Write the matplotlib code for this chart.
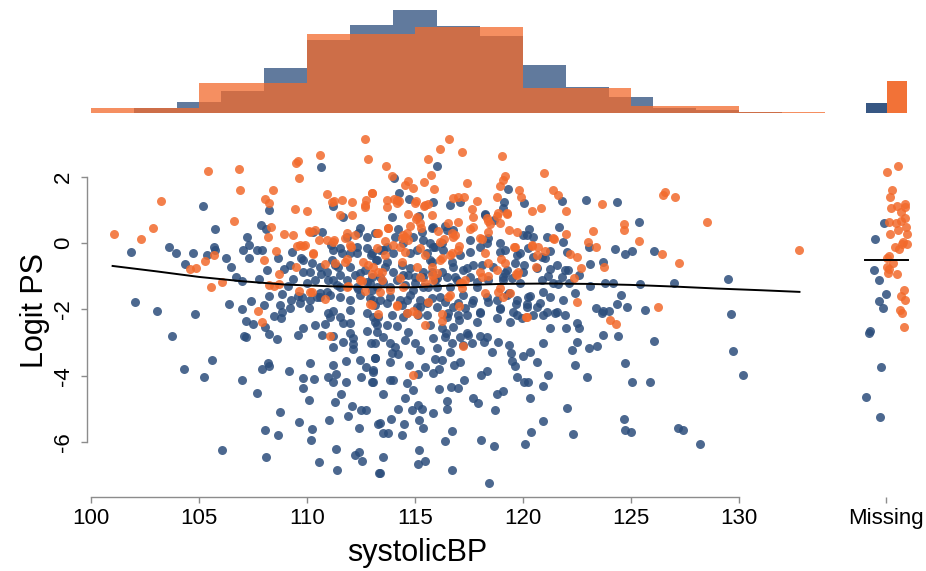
import numpy as np
import matplotlib.pyplot as plt

plt.rcParams['font.family'] = ['Liberation Sans', 'DejaVu Sans']

# --- scatter: (systolicBP, logit PS) per group ---
blue_pts = [
    (101.84, -0.26), (102.04, -1.76), (103.07, -2.05), (103.63, -0.13), (103.94, -0.29),
    (104.34, -0.62), (104.71, -0.29), (104.83, -2.14), (105.17, 1.10), (105.37, -0.35),
    (105.71, -0.13), (105.72, -0.21), (105.75, 0.41), (106.24, -0.45), (106.5, -0.72),
    (106.39, -1.83), (106.73, -1.03), (107.0, -1.13), (107.0, -1.99), (107.21, 0.19),
    (107.04, -0.20), (107.3, -0.07), (107.31, -0.46), (107.39, -1.74), (107.67, -0.20),
    (107.86, 0.55), (108.1, 0.43), (108.24, 0.98), (107.93, -0.20), (108.13, -0.82),
    (107.78, -1.09), (108.24, -1.58), (108.02, -1.85), (108.64, -0.46), (108.94, -0.77),
    (109.29, -0.26), (109.37, -1.09), (109.23, -0.65), (108.84, -1.52), (109.14, -1.28),
    (108.76, -1.85), (109.27, -1.71), (109.57, -1.59), (109.69, -1.81), (110.09, -1.95),
    (109.72, -0.46), (110.14, -0.86), (110.29, 0.34), (110.68, 0.34), (110.63, -0.94),
    (111.1, -0.07), (111.19, 1.10), (110.63, 2.28), (111.68, 0.79), (111.85, 0.19),
    (112.44, 0.45), (112.35, 0.29), (111.17, -0.51), (111.42, -0.71), (111.63, -0.31),
    (112.3, -0.31), (112.45, -0.91), (111.22, -1.11), (111.53, -1.31), (112.38, -1.39),
    (111.22, -2.05), (111.53, -2.22), (111.99, -2.02), (113.07, -1.71), (112.79, 0.19),
    (112.95, -0.36), (113.21, -0.51), (110.6, -1.51), (110.94, -1.46), (110.45, -1.61),
    (113.07, -2.22),
    (116.0, 2.32), (114.03, 1.96), (114.27, 1.51), (114.74, 1.33), (115.85, 1.22),
    (116.64, 1.13), (113.92, 0.77), (115.2, 0.81), (114.23, 0.41), (115.79, 0.46),
    (116.41, 0.51), (117.55, 0.09), (118.22, 0.86), (118.68, 0.69), (119.09, 1.06),
    (119.14, 1.24), (119.32, 1.62), (120.05, 1.19), (121.79, 1.27), (122.93, 1.28),
    (124.34, 1.22), (125.38, 0.64), (121.67, 0.47), (121.87, 0.04), (120.26, 0.41),
    (120.20, 0.24), (120.45, 0.19), (120.01, 0.24), (119.7, -0.36), (120.05, -0.66),
    (120.45, -0.41), (120.86, -0.41), (121.25, -0.24), (121.25, -0.78), (121.17, -0.99),
    (121.64, -1.23), (122.1, -0.81), (123.1, -0.64), (123.69, -0.56), (124.26, -0.19),
    (124.72, -0.34), (125.03, -0.23), (126.08, -0.23), (123.04, -0.13), (122.61, -0.96),
    (123.1, -1.29), (123.80, -1.19), (124.18, -1.21), (124.56, -1.56), (124.33, -1.83),
    (125.42, -1.23), (125.65, -2.02), (123.38, -1.96), (123.69, -2.06), (122.43, -1.49),
    (122.14, -1.19), (120.94, -1.46), (120.79, -1.79), (121.1, -2.08), (121.48, -2.10),
    (120.32, -1.58), (120.20, -1.83), (119.68, -1.84), (119.36, -1.49), (118.94, -1.96),
    (118.39, -1.76), (118.01, -2.11), (117.62, -1.79), (117.31, -1.94), (117.0, -1.79),
    (116.39, -1.76), (116.0, -1.91), (115.54, -1.79), (115.08, -1.91), (114.62, -1.71),
    (114.38, -1.86), (113.69, -1.81), (113.15, -1.86), (113.30, -2.22), (113.92, -2.17),
    (114.46, -2.22), (115.54, -2.17), (116.46, -2.22), (117.39, -2.17), (118.78, -2.27),
    (119.71, -2.17), (113.23, -0.51), (113.69, -0.56), (113.38, -1.01), (114.0, -0.86),
    (114.46, -0.96), (114.77, -0.76), (115.0, -1.01), (115.39, -0.86), (115.69, -0.51),
    (116.24, -0.86), (116.77, -0.71), (116.85, -1.01), (117.39, -0.76), (117.55, -1.01),
    (117.86, -1.31), (118.09, -0.66), (118.32, -0.01), (118.94, -0.26), (119.17, -0.21),
    (119.25, -0.81), (119.09, -1.01), (119.09, -1.11), (116.62, -1.31), (116.0, -1.31),
    (115.39, -1.31), (114.92, -1.41), (113.84, -1.31), (112.99, -1.41), (112.92, -1.21),
    (113.53, -0.21), (114.07, 0.19), (115.39, 0.09), (115.69, -0.01), (116.24, -0.01),
    (116.46, 0.39), (115.85, 0.49),
    (126.98, -1.21), (129.49, -1.09), (129.61, -2.13), (126.08, -2.94), (129.72, -3.24),
    (130.19, -3.97), (125.88, -4.18), (127.16, -5.58), (127.42, -5.62), (128.21, -6.05),
    (103.73, -2.79), (104.29, -3.78), (105.23, -4.03), (105.59, -3.51), (106.06, -6.23),
    (107.0, -4.13), (107.19, -2.82), (107.1, -2.79), (107.48, -2.44), (107.19, -2.34),
    (107.67, -4.52), (107.90, -3.79), (108.18, -3.60), (108.22, -3.69), (108.07, -2.54),
    (108.25, -2.74), (108.47, -2.19), (108.6, -2.89), (108.04, -5.63), (108.10, -6.44),
    (108.67, -5.78), (108.75, -5.09), (108.8, -2.27), (108.86, -2.07), (109.17, -3.85),
    (109.23, -1.96), (109.6, -2.77), (109.64, -5.39), (109.8, -4.05), (109.8, -4.37),
    (109.83, -2.57), (110.09, -4.72), (110.14, -3.60), (110.17, -5.92), (110.25, -5.60),
    (110.31, -4.09), (110.36, -2.48), (110.57, -6.59), (110.69, -2.78), (110.83, -2.44),
    (110.99, -4.02), (111.03, -5.33), (111.22, -3.67), (111.22, -4.17), (111.22, -3.13),
    (111.30, -4.77), (111.34, -3.93), (111.33, -6.19), (111.37, -6.84), (111.56, -4.54),
    (111.67, -2.97), (111.79, -3.55), (111.79, -4.19), (111.88, -5.20), (112.07, -4.89),
    (112.11, -3.05), (112.11, -3.20), (112.14, -2.85), (112.24, -6.37), (112.41, -6.28),
    (112.42, -5.58), (112.47, -3.51), (112.5, -4.04), (112.53, -6.55), (112.49, -5.02),
    (112.72, -5.02), (112.72, -3.72), (112.76, -2.65), (112.95, -3.02), (113.02, -4.18),
    (113.07, -3.83), (113.13, -3.47), (113.30, -5.44), (113.32, -6.93), (111.22, -2.79),
    (110.99, -2.12), (111.06, -2.22), (111.68, -2.42), (111.99, -2.42), (111.99, -2.72),
    (112.76, -2.12), (113.15, -2.37),
    (113.53, -4.54), (113.38, -5.42), (113.53, -5.72), (113.76, -5.72), (113.53, -6.45),
    (113.38, -6.92), (114.38, -5.77), (114.51, -5.44), (114.54, -4.67), (114.20, -4.98),
    (113.88, -5.29), (114.84, -5.02), (115.12, -4.87), (115.31, -5.00), (115.20, -5.32),
    (115.39, -5.56), (115.20, -6.23), (115.15, -6.65), (115.46, -6.57), (115.85, -5.12),
    (116.39, -5.96), (116.73, -6.82), (116.73, -5.66), (116.5, -4.98), (116.5, -4.74),
    (116.13, -4.38), (116.68, -4.32), (116.98, -4.35), (117.28, -4.12), (117.67, -4.67),
    (117.90, -4.81), (118.04, -5.92), (118.41, -7.21), (118.70, -5.02), (118.67, -6.11),
    (118.80, -4.55), (119.06, -4.44), (118.32, -3.84), (118.06, -3.97), (120.11, -6.05),
    (120.36, -5.70), (120.32, -4.67), (120.05, -4.19), (120.23, -4.19), (119.74, -4.02),
    (119.61, -3.70), (120.66, -3.59), (120.94, -4.30), (121.17, -3.97), (120.94, -5.34),
    (122.02, -4.95), (122.33, -5.74), (122.95, -4.04), (122.43, -3.66), (122.25, -3.23),
    (122.48, -2.99), (123.06, -3.16), (123.41, -3.09), (123.72, -2.77), (124.38, -2.79),
    (124.72, -3.60), (125.05, -4.18), (124.68, -5.30), (124.74, -5.64), (124.99, -5.70),
    (121.25, -2.57), (121.97, -2.57), (120.94, -3.02), (120.32, -3.27), (120.01, -3.40),
    (119.44, -3.32), (119.33, -3.07), (119.47, -3.54), (118.83, -2.99), (118.56, -3.27),
    (118.19, -2.97), (118.32, -2.82), (118.01, -2.80), (117.44, -2.77), (117.65, -3.00),
    (117.05, -2.32), (116.74, -2.54), (116.62, -3.27), (116.82, -3.67), (117.08, -3.57),
    (116.70, -3.02), (116.39, -2.82), (116.26, -3.52), (116.11, -3.80), (115.85, -3.92),
    (115.46, -3.72), (115.12, -3.94), (114.74, -3.68), (114.62, -4.22), (114.89, -4.42),
    (113.84, -4.12), (113.99, -4.12), (113.07, -4.17), (113.07, -3.87), (113.15, -3.47),
    (113.84, -3.57), (113.92, -3.32), (113.84, -3.02), (114.20, -3.33), (114.07, -3.12),
    (115.0, -3.00), (115.23, -3.22), (116.0, -3.17), (114.54, -2.92), (114.66, -2.67),
    (113.15, -3.02), (113.53, -2.82), (113.23, -2.67), (113.23, -2.47), (113.69, -2.47),
    (114.15, -2.50), (114.62, -2.10), (115.15, -2.17), (115.69, -2.47), (115.85, -2.87),
    (116.24, -2.57), (116.42, -2.72), (116.54, -2.12), (117.0, -2.17), (117.39, -2.72),
    (117.86, -2.37), (118.01, -2.07), (118.94, -1.99), (119.40, -2.37), (119.94, -2.27),
    (120.48, -2.17), (120.94, -2.17), (121.56, -2.07), (121.94, -2.17), (122.48, -2.42),
    (122.61, -2.55), (123.64, -2.10), (123.99, -2.05), (124.80, -1.91), (115.23, -1.91),
    (116.74, -1.91), (119.56, -2.07), (120.17, -1.91), (120.63, -1.91), (117.24, -3.07),
    (115.93, -3.48), (117.08, -2.82),
    (113.15, 0.29), (114.92, 0.19), (115.31, 0.34), (111.22, -0.21), (111.53, -0.16),
    (111.99, -0.31), (112.3, -0.11), (112.76, -0.16), (113.0, -0.31), (113.38, -0.21),
    (113.69, -0.11), (114.0, -0.31), (114.46, -0.01), (114.77, -0.31), (115.08, -0.21),
    (115.54, -0.31), (115.85, -0.11), (109.83, -0.51), (110.22, -0.61), (109.83, -0.86),
    (110.6, -0.71), (110.91, -0.86), (111.3, -0.66), (111.53, -0.96), (111.99, -0.71),
    (112.22, -0.96), (112.69, -0.81), (113.0, -1.01), (113.61, -0.71), (114.38, -0.66),
    (114.69, -0.96), (115.39, -1.01), (115.77, -0.86), (116.0, -1.06), (109.99, -1.21),
    (110.37, -1.11), (110.99, -1.11), (111.37, -1.26), (111.84, -1.11), (112.3, -1.31),
    (112.76, -1.16), (113.23, -1.31), (113.53, -1.16), (114.15, -1.11), (114.54, -1.26),
    (115.0, -1.21), (115.62, -1.31), (109.75, -1.61), (110.14, -1.71), (110.6, -1.61),
    (111.06, -1.56), (111.53, -1.61), (111.99, -1.71), (112.45, -1.56), (112.92, -1.66),
    (113.38, -1.71), (113.84, -1.61), (114.31, -1.71), (114.77, -1.56), (115.23, -1.71),
    (115.77, -1.66),
    (117.08, 1.24), (118.24, 0.84), (116.77, 0.39), (118.39, 0.14), (118.94, -0.01),
    (121.1, 0.19), (115.93, -0.11), (116.31, -0.21), (117.08, -0.36), (117.55, -0.26),
    (118.01, -0.11), (119.86, -0.31), (120.25, -0.16), (121.02, -0.46), (122.02, -0.26),
    (115.77, -0.56), (116.7, -0.56), (117.24, -0.81), (117.7, -0.66), (118.63, -0.71),
    (119.17, -0.91), (119.63, -0.61), (120.01, -0.86), (120.63, -0.76), (121.56, -0.66),
    (121.94, -0.81), (115.93, -1.11), (116.47, -1.01), (116.93, -1.11), (117.86, -1.16),
    (118.39, -1.11), (119.48, -1.06), (119.86, -1.21), (120.87, -1.11), (121.4, -1.21),
    (121.79, -1.01), (116.16, -1.61), (117.24, -1.56), (117.7, -1.71), (118.32, -1.61),
    (118.78, -1.71), (119.25, -1.56), (119.71, -1.71), (120.25, -1.61), (121.25, -1.61),
    (121.87, -1.71),
]

orange_pts = [
    (101.08, 0.27), (102.3, 0.13), (102.88, 0.46), (103.24, 1.27), (105.43, 2.17),
    (106.85, 2.24), (106.91, 1.61), (106.6, 0.65), (104.58, -0.78), (104.85, -0.74),
    (105.29, -0.54), (105.68, -0.36), (105.56, -1.32), (106.08, -1.17), (108.06, 1.31),
    (108.24, 1.21), (108.41, 1.58), (108.35, 0.49), (108.21, 0.17), (108.92, 0.26),
    (109.34, 0.25), (109.43, 1.01), (109.51, 2.4), (109.6, 2.47), (109.61, 1.95),
    (109.98, 0.95), (110.6, 2.64), (110.93, 1.47), (111.17, 1.23), (111.27, 1.25),
    (111.6, 1.30), (112.08, 1.22), (111.53, 0.85), (112.07, 0.85), (112.69, 3.13),
    (112.84, 2.52), (113.01, 1.50), (112.73, 1.28), (112.7, 1.07), (110.11, 0.37),
    (110.37, 0.39), (110.57, 0.09), (110.91, 0.09), (111.25, 0.09), (111.76, 0.16),
    (112.02, -0.11), (109.52, -0.09), (109.8, -0.08), (108.0, -0.52), (108.55, -0.24),
    (109.5, -0.71), (110.26, -0.34), (110.83, -0.63), (111.30, -0.59), (111.84, -0.49),
    (108.69, -0.94), (108.25, -1.26), (108.49, -1.28), (108.69, -1.24), (109.64, -1.43),
    (110.14, -1.48), (110.83, -1.67), (111.88, -1.28), (112.53, -1.15), (112.7, -1.43),
    (112.92, -1.83), (113.02, -0.93), (112.84, -0.67), (112.61, -0.56), (113.22, -0.15),
    (107.75, -2.05),
    (116.57, 3.13), (116.17, 2.82), (115.62, 2.53), (117.16, 2.73), (113.64, 2.32),
    (113.92, 2.02), (115.74, 2.04), (115.43, 1.83), (114.69, 1.86), (114.54, 1.74),
    (114.89, 1.66), (115.88, 1.63), (117.41, 1.80), (119.01, 2.62), (119.15, 2.02),
    (119.06, 1.89), (118.94, 1.71), (120.97, 2.10), (121.37, 1.58), (121.63, 1.43),
    (121.99, 0.96), (119.8, 1.58), (119.91, 1.39), (118.8, 1.39), (117.86, 1.27),
    (116.77, 1.34), (117.0, 1.37), (117.28, 1.39), (117.64, 1.02), (119.25, 0.87),
    (120.42, 0.97), (120.83, 1.04), (123.66, 1.18), (126.56, 1.53), (126.5, 1.43),
    (123.25, 0.37), (124.69, 0.58), (124.68, 0.40), (125.38, 0.06), (126.45, -0.34),
    (123.02, 0.04), (123.36, -0.13), (121.99, 0.27), (121.44, 0.13), (122.18, -0.33),
    (122.51, -0.41), (122.69, -0.76), (123.75, -0.73), (122.38, -1.06), (122.49, -1.78),
    (126.27, -1.93), (119.7, 0.34), (119.36, 0.39), (120.43, -0.09), (120.68, -0.13),
    (121.02, -0.23), (119.6, -0.11), (120.59, -0.72), (119.66, -0.93), (119.15, -0.61),
    (118.98, -0.49), (118.39, 0.67), (118.35, 0.74), (118.47, 0.56), (118.86, 0.91),
    (118.78, 0.81), (118.0, 0.14), (118.10, 0.12), (117.7, 0.49), (117.55, 0.41),
    (117.0, 0.64), (116.55, 0.61), (116.77, 0.19), (116.73, 0.31), (116.08, 0.37),
    (116.34, 0.11), (115.23, 0.59), (115.05, 0.71), (115.28, 0.44), (114.77, 0.51),
    (113.76, 0.46), (114.43, 0.24), (114.52, 0.17), (114.66, 0.09), (113.23, 0.29),
    (113.99, -0.06), (113.6, 0.07), (114.15, 1.29), (114.03, 1.32), (113.69, 1.29),
    (113.0, 1.51), (114.27, 1.26), (115.03, 1.27), (115.43, 1.11), (115.62, 1.17),
    (114.66, 0.86), (114.31, -0.11), (114.54, -0.26), (115.23, -0.16), (115.46, -0.36),
    (116.16, -0.51), (116.62, -0.36), (117.05, -0.09), (117.0, -0.21), (118.24, -0.31),
    (118.39, -0.61), (118.78, -0.81), (119.71, -0.96), (117.31, -1.11), (118.09, -1.01),
    (118.39, -0.99), (115.77, -0.71), (115.08, -0.71), (114.38, -0.56), (113.61, -0.36),
    (113.46, -0.86), (113.07, -0.71), (114.46, -1.31), (115.46, -1.19), (115.77, -0.96),
    (117.08, -1.21), (116.62, -1.56), (118.24, -1.51), (118.86, -1.46), (119.09, -1.61),
    (114.15, -1.86), (114.92, -2.06), (113.38, -1.46), (120.17, -2.22), (124.03, -2.32),
    (127.02, 1.37), (128.52, 0.64), (132.78, -0.20), (127.21, -0.61),
    (107.92, -2.38), (111.06, -2.79), (113.30, -2.14),
    (114.18, -1.89), (114.62, -2.12), (115.08, -2.14), (115.46, -2.47), (116.24, -2.14),
    (116.26, -2.34), (117.05, -1.89), (117.21, -3.09), (114.89, -3.97), (120.12, -2.22),
    (124.29, -2.45), (113.0, -1.86), (115.62, -1.76),
    (112.69, 1.14), (113.69, 1.09), (114.15, 1.19), (115.0, 1.19), (115.46, 1.14),
    (115.08, 0.79), (115.77, 0.84), (110.14, 0.34), (111.22, 0.04), (111.84, 0.29),
    (112.22, 0.24), (113.3, 0.29), (113.76, 0.44), (114.38, 0.14), (114.62, 0.29),
    (109.68, -0.06), (109.91, -0.06), (110.29, -0.31), (111.99, -0.06), (111.76, -0.56),
    (113.3, -0.86), (112.45, -1.11), (113.46, -1.11), (114.31, -1.06), (111.84, -1.31),
    (113.84, -1.41), (110.22, -1.46), (115.23, -1.01), (116.0, -0.91),
    (117.7, 0.79), (119.25, 0.89), (118.94, 0.59), (118.39, 0.34), (116.16, 0.04),
    (116.85, 0.24), (119.63, -0.11), (120.4, -0.06), (121.4, 0.14), (116.24, -0.46),
    (116.7, -0.31), (119.79, -0.86), (120.63, -0.36), (118.01, -0.86), (115.85, -1.11),
    (117.16, -1.21), (117.16, -1.36), (118.94, -1.36), (119.4, -1.51), (116.54, -1.61),
]

# --- "Missing" column: horizontal jitter offset and logit PS ---
miss_blue_off = [-1.7, -11, -12.3, -7, 0.3, -7.3, -2.7, -16, -16.7, -4.7, -19.7, -6]
miss_blue_y = [0.61, 0.12, -0.81, -1.12, -1.53, -1.74, -1.96, -2.64, -2.70, -3.74, -4.64, -5.24]
miss_orange_off = [0.7, 12.3, 5.7, 4, 4.7, 11.3, 19, 19, 15, 19, 15, 10, 3.3, 20, 12.3, 20.7,
                   4, 17.3, 20.7, 15.7, 9, 13.3, 3.3, 0.7, 6.7, 0.7, 3.3, 1.7, 10.7, 18.3,
                   14.7, 19.3, 14, 15.7, 17.7]
miss_orange_y = [2.14, 2.32, 1.61, 1.39, 1.04, 1.12, 1.16, 1.09, 0.94, 0.76, 0.67, 0.59, 0.62,
                 0.49, 0.39, 0.27, 0.27, 0.04, -0.03, -0.04, -0.11, -0.19, -0.39, -0.46,
                 -0.61, -0.71, -0.79, -0.91, -0.94, -1.41, -1.59, -1.71, -2.02, -2.10, -2.53]
miss_mean = -0.5

# --- smooth trend line ---
loess_x = [101, 103, 105, 107, 109, 111, 113, 115, 117, 119, 121, 123, 125, 127, 129, 131, 132.8]
loess_y = [-0.69, -0.85, -1.02, -1.15, -1.25, -1.30, -1.33, -1.33, -1.27, -1.23, -1.22,
           -1.23, -1.26, -1.31, -1.37, -1.42, -1.47]

# --- marginal histograms (relative heights) ---
blue_edges = [100, 102, 104, 106, 108, 110, 112, 114, 116, 118, 120, 122, 124, 126, 128, 130, 132, 134]
blue_heights = [0, 4.6, 10.7, 22.3, 45, 73, 87.7, 102.7, 87, 77.3, 47.7, 26.3, 15.7, 4.7, 3, 1, 0]
orange_edges = [100, 105, 110, 115, 120, 125, 130, 134]
orange_heights = [5, 29.7, 79, 86, 24.7, 7, 1]
miss_heights = [10, 32]  # blue, orange

BLUE = '#2c4e7c'
ORANGE = '#f26a2c'
GREY = '#8c8c8c'
PT = 42

W, H = 926, 571
fig = plt.figure(figsize=(W / 100, H / 100), dpi=100)


def box(x0, y0, x1, y1):
    # pixel box (top-left origin) -> figure fraction
    return [x0 / W, 1 - y1 / H, (x1 - x0) / W, (y1 - y0) / H]


xlim = (100, 134)
ylim = (-7.37, 3.40)
x_right = 91 + (xlim[1] - xlim[0]) * 21.6

ax = fig.add_axes(box(91, 130, x_right, 488))
ax_hist = fig.add_axes(box(91, 5, x_right, 113))
ax_miss = fig.add_axes(box(858, 130, 914, 488))
ax_mhist = fig.add_axes(box(858, 5, 914, 113))

bp = np.array(blue_pts)
op = np.array(orange_pts)
ax.scatter(bp[:, 0], bp[:, 1], s=PT, color=BLUE, alpha=0.85, linewidths=0)
ax.scatter(op[:, 0], op[:, 1], s=PT, color=ORANGE, alpha=0.85, linewidths=0)
ax.plot(loess_x, loess_y, color='black', lw=1.4)

ax.set_xlim(*xlim)
ax.set_ylim(*ylim)
for s in ['top', 'right']:
    ax.spines[s].set_visible(False)
ax.spines['bottom'].set_bounds(100, 130)
ax.spines['bottom'].set_position(('outward', 6.5))
ax.spines['left'].set_bounds(-6, 2)
ax.spines['left'].set_position(('outward', 3))
for s in ['bottom', 'left']:
    ax.spines[s].set_color(GREY)
    ax.spines[s].set_linewidth(1)
ax.set_xticks([100, 105, 110, 115, 120, 125, 130])
ax.set_yticks([-6, -4, -2, 0, 2])
ax.set_yticklabels(['-6', '-4', '-2', '0', '2'], rotation=90, va='center')
ax.tick_params(colors=GREY, labelcolor='black', labelsize=16, length=4, width=1)
ax.tick_params(axis='y', pad=5)
ax.tick_params(axis='x', pad=4)

fig.text(35 / W, 1 - 311 / H, 'Logit PS', rotation=90, ha='center', va='center', fontsize=22)
fig.text(417 / W, 1 - 553 / H, 'systolicBP', ha='center', va='center', fontsize=22)

# top histogram
ax_hist.bar(blue_edges[:-1], blue_heights, width=np.diff(blue_edges), align='edge',
            color=BLUE, alpha=0.75, linewidth=0)
ax_hist.bar(orange_edges[:-1], orange_heights, width=np.diff(orange_edges), align='edge',
            color=ORANGE, alpha=0.75, linewidth=0)
ax_hist.set_xlim(*xlim)
ax_hist.set_ylim(0, 108)
ax_hist.axis('off')

# missing column
ax_miss.scatter(miss_blue_off, miss_blue_y, s=PT, color=BLUE, alpha=0.85, linewidths=0)
ax_miss.scatter(miss_orange_off, miss_orange_y, s=PT, color=ORANGE, alpha=0.85, linewidths=0)
ax_miss.plot([-21, 22], [miss_mean, miss_mean], color='black', lw=1.4)
ax_miss.set_xlim(-28, 28)
ax_miss.set_ylim(*ylim)
for s in ['top', 'right', 'left']:
    ax_miss.spines[s].set_visible(False)
ax_miss.spines['bottom'].set_position(('outward', 6.5))
ax_miss.spines['bottom'].set_visible(False)
ax_miss.set_yticks([])
ax_miss.set_xticks([0])
ax_miss.set_xticklabels(['Missing'])
ax_miss.tick_params(colors=GREY, labelcolor='black', labelsize=16, length=4, width=1, pad=4)

ax_mhist.bar([-20, 1], miss_heights, width=[21, 20], align='edge',
             color=[BLUE, ORANGE], alpha=0.95, linewidth=0)
ax_mhist.set_xlim(-28, 28)
ax_mhist.set_ylim(0, 108)
ax_mhist.axis('off')

fig.savefig('out.png', dpi=100)
